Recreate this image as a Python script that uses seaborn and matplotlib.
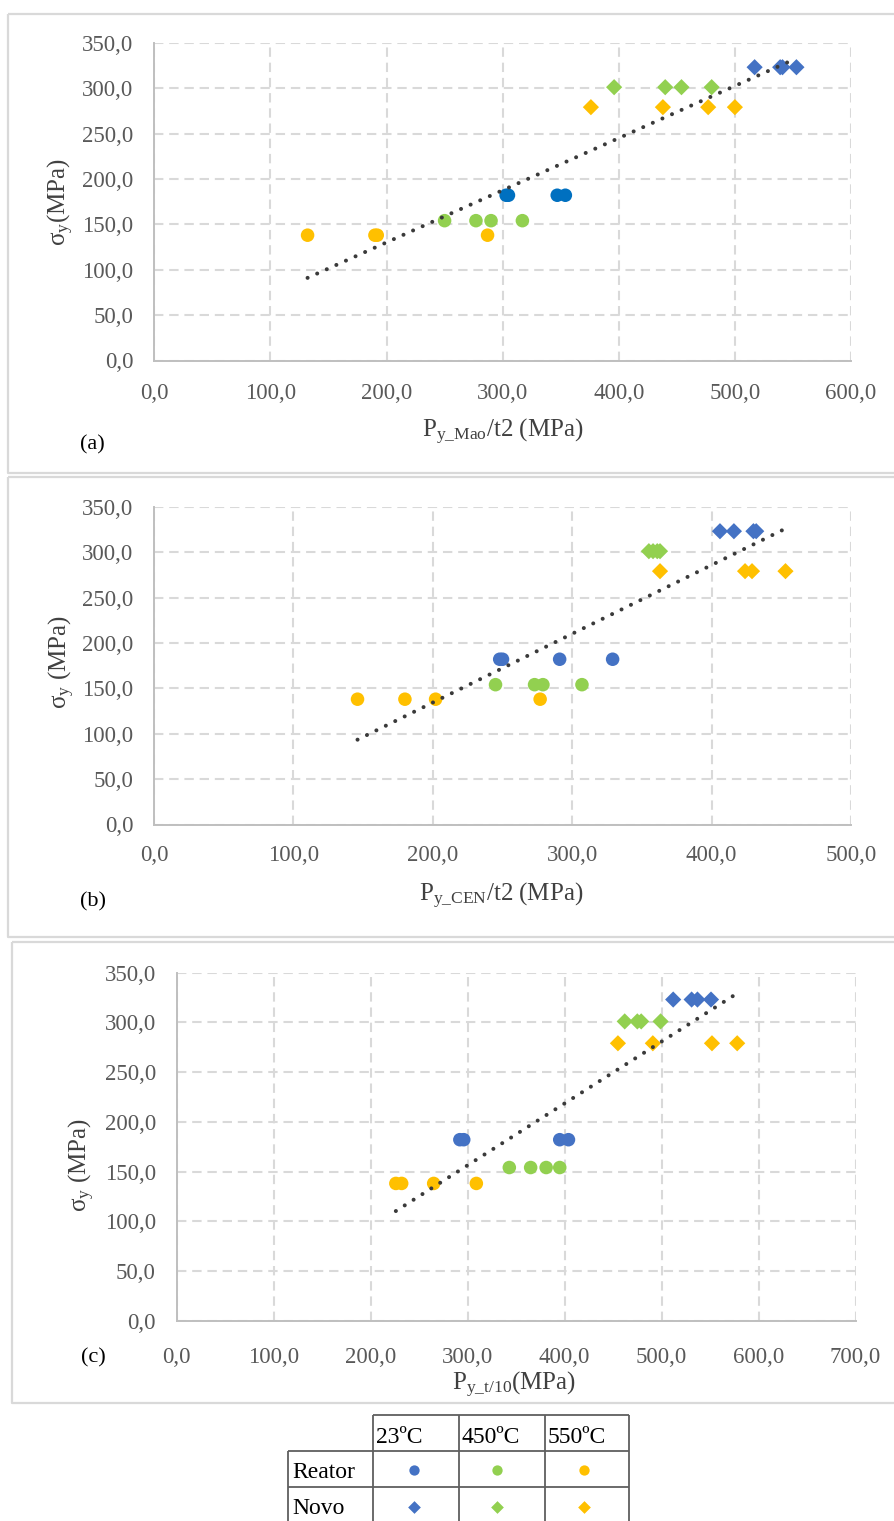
import numpy as np
import pandas as pd
import matplotlib
matplotlib.use("Agg")
import matplotlib.pyplot as plt
import seaborn as sns
from matplotlib.ticker import FuncFormatter, MultipleLocator

# ---------------- data ----------------
temps = ["23ºC", "450ºC", "550ºC"]
kinds = ["Reator", "Novo"]
sigma_reator = [182, 154, 138]   # sigma_y (MPa) per temperature, Reator
sigma_novo = [323, 301, 279]     # sigma_y (MPa) per temperature, Novo

# panel (a): Py_Mao/t2
a_reator_23 = [303, 305, 347, 354]
a_reator_450 = [250, 277, 290, 317]
a_reator_550 = [132, 190, 192, 287]
a_novo_23 = [517, 539, 541, 553]
a_novo_450 = [396, 440, 454, 480]
a_novo_550 = [376, 438, 477, 500]

# panel (b): Py_CEN/t2
b_reator_23 = [248, 250, 291, 329]
b_reator_450 = [245, 273, 279, 307]
b_reator_550 = [146, 180, 202, 277]
b_novo_23 = [406, 416, 430, 432]
b_novo_450 = [355, 358, 361, 363]
b_novo_550 = [363, 424, 429, 453]

# panel (c): Py_t/10
c_reator_23 = [292, 296, 395, 404]
c_reator_450 = [343, 365, 381, 395]
c_reator_550 = [226, 232, 265, 309]
c_novo_23 = [512, 531, 537, 551]
c_novo_450 = [462, 475, 479, 499]
c_novo_550 = [455, 491, 552, 578]

y_ticks = [0, 50, 100, 150, 200, 250, 300, 350]

colors = {"23ºC": "#4472C4", "450ºC": "#92D050", "550ºC": "#FFC000"}
colors_a_reator = {"23ºC": "#0070C0", "450ºC": "#92D050", "550ºC": "#FFC000"}


def make_df(reator, novo):
    rows = []
    for t, xs, sy in zip(temps, reator, sigma_reator):
        rows += [dict(x=v, y=sy, temp=t, kind="Reator") for v in xs]
    for t, xs, sy in zip(temps, novo, sigma_novo):
        rows += [dict(x=v, y=sy, temp=t, kind="Novo") for v in xs]
    return pd.DataFrame(rows)


df_a = make_df([a_reator_23, a_reator_450, a_reator_550], [a_novo_23, a_novo_450, a_novo_550])
df_b = make_df([b_reator_23, b_reator_450, b_reator_550], [b_novo_23, b_novo_450, b_novo_550])
df_c = make_df([c_reator_23, c_reator_450, c_reator_550], [c_novo_23, c_novo_450, c_novo_550])

# ---------------- style ----------------
sns.set_style("white")
plt.rcParams["font.family"] = ["Liberation Serif", "DejaVu Serif"]
plt.rcParams["mathtext.fontset"] = "custom"
plt.rcParams["mathtext.rm"] = "Liberation Serif"
plt.rcParams["mathtext.it"] = "Liberation Serif:italic"
plt.rcParams["mathtext.bf"] = "Liberation Serif:bold"

W, H = 894, 1521
fig = plt.figure(figsize=(W / 100, H / 100), dpi=100)

# overlay axes in pixel coordinates for frames and the legend table
ov = fig.add_axes([0, 0, 1, 1])
ov.set_xlim(0, W)
ov.set_ylim(H, 0)
ov.axis("off")

frame_kw = dict(color="#D9D9D9", lw=1.6, solid_capstyle="butt")
for (l, t, b) in [(7.5, 13.5, 473.3), (7.5, 476.8, 936.7), (12.3, 941.8, 1403)]:
    ov.plot([l, W + 5, W + 5, l, l], [t, t, b, b, t], **frame_kw)


def add_ax(l, r, t, b):
    return fig.add_axes([l / W, 1 - b / H, (r - l) / W, (b - t) / H])


fmt = FuncFormatter(lambda v, p: f"{v:.1f}".replace(".", ","))


def style_ax(ax, xmax, xpad):
    ax.set_xlim(0, xmax)
    ax.set_ylim(0, 350)
    ax.xaxis.set_major_locator(MultipleLocator(100))
    ax.set_yticks(y_ticks)
    ax.xaxis.set_major_formatter(fmt)
    ax.yaxis.set_major_formatter(fmt)
    ax.grid(True, color="#D9D9D9", lw=1.5, linestyle=(0, (4.5, 2.8)))
    ax.set_axisbelow(True)
    for s in ["top", "right"]:
        ax.spines[s].set_visible(False)
    for s in ["left", "bottom"]:
        ax.spines[s].set_color("#BFBFBF")
        ax.spines[s].set_linewidth(1.4)
        ax.spines[s].set_zorder(2.5)
    ax.tick_params(axis="both", length=0, labelsize=16.5, labelcolor="#595959")
    ax.tick_params(axis="y", pad=15)
    ax.tick_params(axis="x", pad=xpad)
    ax.set_xlabel("")
    ax.set_ylabel("")


def draw_panel(ax, df, pal_reator):
    sub_r = df[df["kind"] == "Reator"]
    sub_n = df[df["kind"] == "Novo"]
    sns.scatterplot(data=sub_r, x="x", y="y", hue="temp", palette=pal_reator,
                    marker="o", s=95, linewidth=0, legend=False, ax=ax, zorder=3)
    sns.scatterplot(data=sub_n, x="x", y="y", hue="temp", palette=colors,
                    marker="D", s=68, linewidth=0, legend=False, ax=ax, zorder=3)
    sns.regplot(data=df, x="x", y="y", scatter=False, ci=None, truncate=True, ax=ax,
                line_kws=dict(color="#3A3A3A", lw=2.9, linestyle=(0, (0.01, 2.6)),
                              dash_capstyle="round", zorder=4))


ax_a = add_ax(154.3, 851, 42.7, 360.5)
draw_panel(ax_a, df_a, colors_a_reator)
style_ax(ax_a, 600, 16)

ax_b = add_ax(154, 851, 506.7, 824.5)
draw_panel(ax_b, df_b, colors)
style_ax(ax_b, 500, 15)

ax_c = add_ax(176.7, 855.5, 972.7, 1320.6)
draw_panel(ax_c, df_c, colors)
style_ax(ax_c, 700, 19)


def ftext(x, y, s, **kw):
    fig.text(x / W, 1 - y / H, s, **kw)


lab_kw = dict(fontsize=18, color="#404040")
ftext(61, 202, r"$\mathrm{σ_y(MPa)}$", rotation=90, ha="center", va="center", **lab_kw)
ftext(62, 662, r"$\mathrm{σ_y\ (MPa)}$", rotation=90, ha="center", va="center", **lab_kw)
ftext(82, 1165, r"$\mathrm{σ_y\ (MPa)}$", rotation=90, ha="center", va="center", **lab_kw)

ftext(503, 437, r"$\mathrm{P_{y\_Mao}/t2\ (MPa)}$", ha="center", va="baseline", **lab_kw)
ftext(501, 901, r"$\mathrm{P_{y\_CEN}/t2\ (MPa)}$", ha="center", va="baseline", **lab_kw)
ftext(514, 1390, r"$\mathrm{P_{y\_t/10}(MPa)}$", ha="center", va="baseline", **lab_kw)

for lbl, x, y in [("(a)", 92, 445), ("(b)", 93, 902), ("(c)", 93, 1358)]:
    ftext(x, y, lbl, ha="center", va="center", fontsize=16, color="black")

# ---------------- legend table ----------------
col_x = [373.3, 459, 545, 629]
row_y = [1415, 1450.7, 1486.7, 1530]
left_x = 288.3
tab_kw = dict(color="#5F5F5F", lw=1.3, solid_capstyle="butt")
ov.plot([col_x[0], col_x[-1]], [row_y[0], row_y[0]], **tab_kw)
for yy in row_y[1:3]:
    ov.plot([left_x, col_x[-1]], [yy, yy], **tab_kw)
ov.plot([left_x, left_x], [row_y[1], row_y[-1]], **tab_kw)
for xx in col_x:
    ov.plot([xx, xx], [row_y[0], row_y[-1]], **tab_kw)

tab_font = dict(fontsize=17, color="black", va="baseline", ha="left")
for t, xx in zip(temps, col_x[:3]):
    ov.text(xx + 3, 1443, t, **tab_font)
for k, yy in zip(kinds, [1478, 1514]):
    ov.text(left_x + 4, yy, k, **tab_font)

marker_x = [413.5, 497, 583.5]
marker_y = {"Reator": 1470, "Novo": 1507}
mk = {"Reator": "o", "Novo": "D"}
ms = {"Reator": 55, "Novo": 42}
for k in kinds:
    for t, xx in zip(temps, marker_x):
        ov.scatter([xx], [marker_y[k]], marker=mk[k], s=ms[k], color=colors[t], linewidths=0)

fig.savefig("out.png", dpi=100)
